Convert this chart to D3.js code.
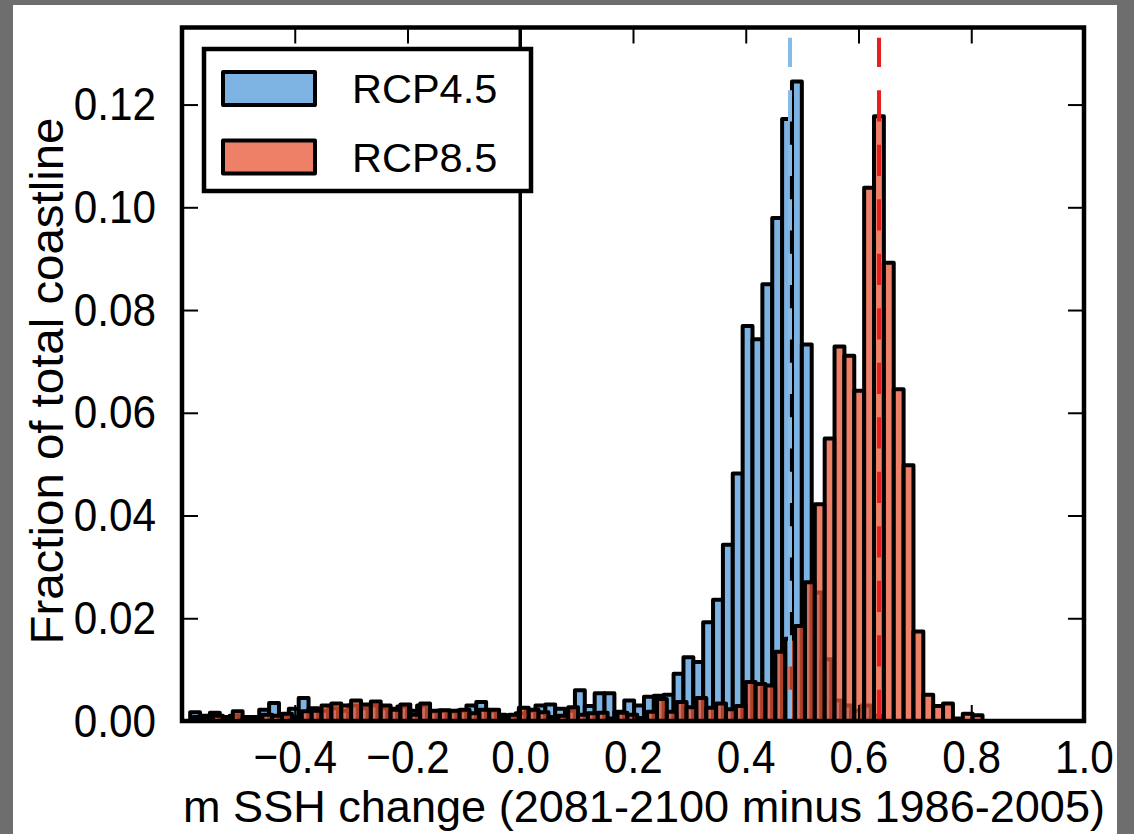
<!DOCTYPE html>
<html>
<head>
<meta charset="utf-8">
<script src="https://cdn.jsdelivr.net/npm/d3@7"></script>
<style>
  html, body { margin: 0; padding: 0; background: #6e6e6e; }
  svg { display: block; }
  text { font-family: "Liberation Sans", Arial, sans-serif; fill: #000; }
</style>
</head>
<body>
<svg id="chart" width="1134" height="834"></svg>
<script>
// histogram bins (fraction of total coastline per bin)
var binWidth = 0.0175;
var rcp45Start = -0.5855;
var rcp85Start = -0.58;

var rcp45 = [
  0.0017, 0.0010, 0.0016, 0.0008, 0.0010, 0.0006, 0.0008, 0.0022, 0.0035, 0.0010,
  0.0024, 0.0045, 0.0025, 0.0020, 0.0025, 0.0020, 0.0030, 0.0025, 0.0030, 0.0025,
  0.0024, 0.0028, 0.0020, 0.0030, 0.0018, 0.0020, 0.0018, 0.0020, 0.0030, 0.0037,
  0.0020, 0.0012, 0.0010, 0.0015, 0.0020, 0.0030, 0.0032, 0.0024, 0.0020, 0.0060,
  0.0029, 0.0054, 0.0054, 0.0018, 0.0040, 0.0030, 0.0047, 0.0049, 0.0051, 0.0092,
  0.0124, 0.0115, 0.0192, 0.0236, 0.0343, 0.0482, 0.0769, 0.0743, 0.0850, 0.0979,
  0.1172, 0.1245, 0.0733, 0.0250, 0.0120, 0.0040, 0.0030, 0.0020, 0.0030, 0.0010,
  0, 0, 0, 0, 0, 0, 0, 0, 0, 0
];

var rcp85 = [
  0.0008, 0.0008, 0.0010, 0.0008, 0.0019, 0.0008, 0.0006, 0.0012, 0.0010, 0.0014,
  0.0008, 0.0019, 0.0020, 0.0030, 0.0034, 0.0030, 0.0040, 0.0032, 0.0038, 0.0030,
  0.0022, 0.0032, 0.0012, 0.0034, 0.0020, 0.0021, 0.0020, 0.0022, 0.0015, 0.0022,
  0.0022, 0.0008, 0.0012, 0.0026, 0.0022, 0.0017, 0.0008, 0.0010, 0.0027, 0.0012,
  0.0015, 0.0016, 0.0005, 0.0016, 0.0012, 0.0006, 0.0018, 0.0043, 0.0018, 0.0037,
  0.0027, 0.0045, 0.0026, 0.0034, 0.0023, 0.0029, 0.0076, 0.0072, 0.0069, 0.0135,
  0.0160, 0.0185, 0.0270, 0.0422, 0.0550, 0.0729, 0.0711, 0.0643, 0.1038, 0.1177,
  0.0892, 0.0646, 0.0498, 0.0174, 0.0051, 0.0029, 0.0034, 0.0005, 0.0014, 0.0011
];

// median SSH change marked by the dashed lines
var medians = [0.4785, 0.6364];
var seriesNames = ["RCP4.5", "RCP8.5"];

var xTicks = [-0.4, -0.2, 0.0, 0.2, 0.4, 0.6, 0.8, 1.0];
var yTicks = [0.00, 0.02, 0.04, 0.06, 0.08, 0.10, 0.12];
var xLabel = "m SSH change (2081-2100 minus 1986-2005)";
var yLabel = "Fraction of total coastline";

var blueFill = "#7db3e3";
var redFill = "rgb(234,86,54)";
var squeeze = 0.9;

var svg = d3.select("#chart");

svg.append("rect")
  .attr("x", 13).attr("y", 5)
  .attr("width", 1104).attr("height", 829)
  .attr("fill", "#fff");

var plotL = 182, plotR = 1084, plotT = 27.5, plotB = 721;

var x = d3.scaleLinear().domain([-0.6, 1.0]).range([plotL, plotR]);
var y = d3.scaleLinear().domain([0, 0.135]).range([plotB, plotT]);

function bins(values, start) {
  return values.map(function (v, i) {
    return { x0: start + i * binWidth, x1: start + (i + 1) * binWidth, v: v };
  });
}

function drawBars(cls, data, fill, opacity) {
  svg.append("g").attr("class", cls)
    .selectAll("rect")
    .data(data.filter(function (d) { return d.v > 0; }))
    .enter()
    .append("rect")
    .attr("x", function (d) { return x(d.x0); })
    .attr("width", function (d) { return x(d.x1) - x(d.x0); })
    .attr("y", function (d) { return y(d.v); })
    .attr("height", function (d) { return y(0) - y(d.v); })
    .attr("fill", fill)
    .attr("fill-opacity", opacity)
    .attr("stroke", "#000")
    .attr("stroke-width", 4)
    .attr("stroke-linejoin", "round");
}

drawBars("rcp45", bins(rcp45, rcp45Start), blueFill, 1);
drawBars("rcp85", bins(rcp85, rcp85Start), redFill, 0.75);

// zero line
svg.append("line")
  .attr("x1", x(0)).attr("x2", x(0))
  .attr("y1", y(0)).attr("y2", plotT)
  .attr("stroke", "#000").attr("stroke-width", 3.5);

// median lines
var lineColors = ["#86bbe8", "#e3201f"];
svg.selectAll(".median")
  .data(medians)
  .enter()
  .append("line")
  .attr("class", "median")
  .attr("x1", function (d) { return x(d); })
  .attr("x2", function (d) { return x(d); })
  .attr("y1", y(0))
  .attr("y2", y(0.133))
  .attr("stroke", function (d, i) { return lineColors[i]; })
  .attr("stroke-width", 4)
  .attr("stroke-dasharray", "31.3,23.2");

// axes
var fmtX = d3.format(".1f");
var fmtY = d3.format(".2f");

var gx = svg.append("g")
  .attr("transform", "translate(0," + plotB + ")")
  .call(d3.axisBottom(x).tickValues(xTicks).tickSize(-16).tickPadding(19).tickFormat(fmtX));

var gy = svg.append("g")
  .attr("transform", "translate(" + plotL + ",0)")
  .call(d3.axisLeft(y).tickValues(yTicks).tickSize(-16).tickPadding(26).tickFormat(fmtY));

var gt = svg.append("g")
  .attr("transform", "translate(0," + plotT + ")")
  .call(d3.axisTop(x).tickValues(xTicks).tickSize(-16).tickFormat(""));

var gr = svg.append("g")
  .attr("transform", "translate(" + plotR + ",0)")
  .call(d3.axisRight(y).tickValues(yTicks).tickSize(-16).tickFormat(""));

[gx, gy, gt, gr].forEach(function (g) {
  g.select(".domain").remove();
  g.selectAll(".tick line").attr("stroke", "#000").attr("stroke-width", 2);
  g.selectAll(".tick text")
    .attr("font-size", 47)
    .attr("font-family", "Liberation Sans, Arial, sans-serif")
    .attr("fill", "#000");
});

gx.selectAll(".tick text").attr("transform", "scale(" + squeeze + ",1)");
gy.selectAll(".tick text")
  .attr("x", -26 / squeeze)
  .attr("transform", "scale(" + squeeze + ",1)");

// frame
svg.append("rect")
  .attr("x", plotL).attr("y", plotT)
  .attr("width", plotR - plotL).attr("height", plotB - plotT)
  .attr("fill", "none")
  .attr("stroke", "#000")
  .attr("stroke-width", 4.5);

// axis titles
svg.append("text")
  .attr("x", 644).attr("y", 822)
  .attr("text-anchor", "middle")
  .attr("font-size", 45)
  .attr("textLength", 922)
  .attr("lengthAdjust", "spacingAndGlyphs")
  .text(xLabel);

svg.append("text")
  .attr("transform", "translate(63,381) rotate(-90)")
  .attr("text-anchor", "middle")
  .attr("font-size", 47)
  .attr("textLength", 527)
  .attr("lengthAdjust", "spacingAndGlyphs")
  .text(yLabel);

// legend
var legend = svg.append("g");
legend.append("rect")
  .attr("x", 204).attr("y", 49)
  .attr("width", 327).attr("height", 142)
  .attr("fill", "#fff")
  .attr("stroke", "#000")
  .attr("stroke-width", 4.5);

var legendFills = [blueFill, redFill];
var legendOpacity = [1, 0.75];
var items = legend.selectAll(".item")
  .data(seriesNames)
  .enter()
  .append("g")
  .attr("class", "item")
  .attr("transform", function (d, i) { return "translate(0," + (i * 68.5) + ")"; });

items.append("rect")
  .attr("x", 223).attr("y", 72)
  .attr("width", 92).attr("height", 33)
  .attr("fill", function (d, i) { return legendFills[i]; })
  .attr("fill-opacity", function (d, i) { return legendOpacity[i]; })
  .attr("stroke", "#000")
  .attr("stroke-width", 4)
  .attr("stroke-linejoin", "round");

items.append("text")
  .attr("x", 352).attr("y", 103)
  .attr("font-size", 41.5)
  .text(function (d) { return d; });
</script>
</body>
</html>
